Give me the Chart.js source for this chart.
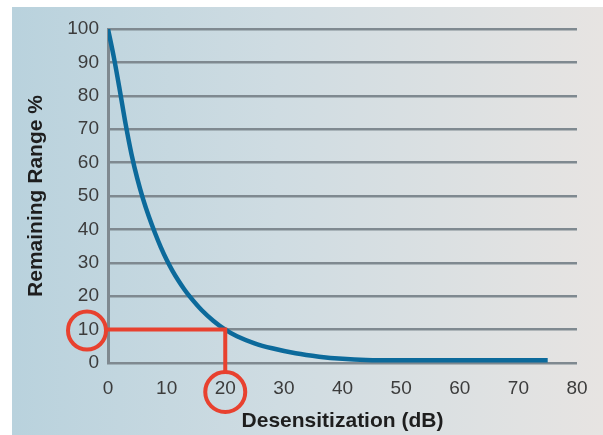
<!DOCTYPE html>
<html><head><meta charset="utf-8">
<script src="https://cdn.jsdelivr.net/npm/chart.js@4"></script>
<style>html,body{margin:0;padding:0;background:#fff}#wrap{width:603px;height:435px}</style>
</head><body><div id="wrap"><canvas id="c"></canvas></div>
<script>
const desensDb = [0, 1, 2, 3, 4, 5, 6, 7, 8, 9, 10, 11, 12, 13, 14, 16, 18, 20, 22, 25, 28, 32, 36, 40, 44, 50, 60, 75];
const remainingPct = [100, 91.5, 81.8, 71.6, 62.6, 55.2, 49, 43.7, 39, 34.7, 30.9, 27.6, 24.7, 22.1, 19.8, 15.8, 12.6, 10, 8, 5.9, 4.4, 2.9, 1.9, 1.25, 0.9, 0.8, 0.8, 0.8];
const xTicks = [0, 10, 20, 30, 40, 50, 60, 70, 80];
const yTicks = [0, 10, 20, 30, 40, 50, 60, 70, 80, 90, 100];
const markDb = 20;
const markPct = 10;
const xTitle = 'Desensitization (dB)';
const yTitle = 'Remaining Range %';

const bgPlugin = {
  id: 'bg',
  beforeDraw(chart) {
    const ctx = chart.ctx;
    const g = ctx.createLinearGradient(12, 0, 603, 0);
    g.addColorStop(0, '#b9d2dd');
    g.addColorStop(0.45, '#cfdce2');
    g.addColorStop(1, '#e7e4e2');
    ctx.save();
    ctx.fillStyle = g;
    ctx.fillRect(12, 7, 591, 428);
    ctx.restore();
  }
};

const markPlugin = {
  id: 'mark',
  afterDatasetsDraw(chart) {
    const ctx = chart.ctx;
    const xs = chart.scales.x, ys = chart.scales.y;
    const px = xs.getPixelForValue(markDb);
    const py = ys.getPixelForValue(markPct);
    const x0 = xs.getPixelForValue(0);
    const yLabelX = x0 - 21;
    const xLabelY = ys.getPixelForValue(0) + 29;
    ctx.save();
    ctx.strokeStyle = '#e8412f';
    ctx.lineWidth = 4;
    ctx.beginPath();
    ctx.moveTo(yLabelX + 19, py);
    ctx.lineTo(px, py);
    ctx.lineTo(px, xLabelY - 20);
    ctx.stroke();
    ctx.beginPath();
    ctx.arc(yLabelX, py + 1, 19, 0, Math.PI * 2);
    ctx.stroke();
    ctx.beginPath();
    ctx.arc(px, xLabelY, 20, 0, Math.PI * 2);
    ctx.stroke();
    ctx.restore();
  }
};

new Chart(document.getElementById('c'), {
  type: 'line',
  data: {
    datasets: [{
      data: desensDb.map((d, i) => ({x: d, y: remainingPct[i]})),
      borderColor: '#0c6a9b',
      borderWidth: 4.5,
      pointRadius: 0,
      fill: false,
      cubicInterpolationMode: 'monotone'
    }]
  },
  options: {
    responsive: true,
    maintainAspectRatio: false,
    animation: false,
    devicePixelRatio: 1,
    layout: {padding: {top: 29, right: 26, bottom: 0, left: 0}},
    plugins: {legend: {display: false}, tooltip: {enabled: false}},
    scales: {
      x: {
        type: 'linear', min: 0, max: 80,
        afterBuildTicks(s) { s.ticks = xTicks.map(v => ({value: v})); },
        afterFit(s) { s.height = 72; },
        grid: {display: false, drawTicks: false},
        border: {display: false},
        ticks: {padding: 14, color: '#3c3c3c', font: {family: 'Liberation Sans', size: 19}},
        title: {display: true, text: xTitle, color: '#1e1e1e', padding: {top: 0, bottom: 1},
          font: {family: 'Liberation Sans', size: 21, weight: 'bold'}}
      },
      y: {
        type: 'linear', min: 0, max: 100,
        afterBuildTicks(s) { s.ticks = yTicks.map(v => ({value: v})); },
        afterFit(s) { s.width = 108; },
        grid: {color: '#7f8990', lineWidth: 2.5, drawTicks: false},
        border: {display: true, color: '#7f8990', width: 3},
        ticks: {padding: 9, color: '#3c3c3c', font: {family: 'Liberation Sans', size: 19}},
        title: {display: true, text: yTitle, color: '#1e1e1e', padding: {top: 24, bottom: 0},
          font: {family: 'Liberation Sans', size: 21, weight: 'bold'}}
      }
    }
  },
  plugins: [bgPlugin, markPlugin]
});
</script></body></html>
